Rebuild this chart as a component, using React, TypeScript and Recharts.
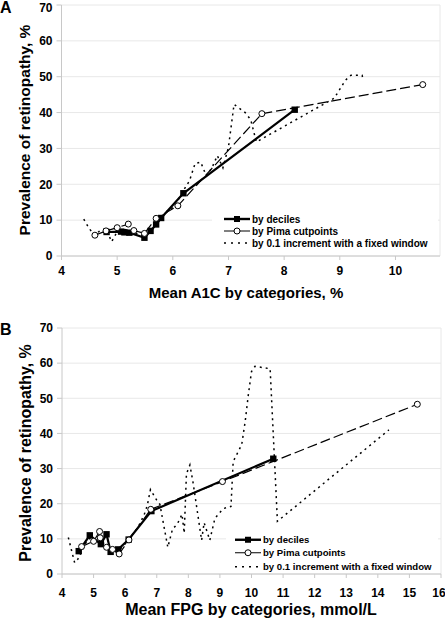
import React from 'react';
import { LineChart, Line, XAxis, YAxis, CartesianGrid, Legend, ReferenceLine } from 'recharts';

const FONT = '"Liberation Sans", Arial, Helvetica, sans-serif';

// ---- Panel A: mean A1C (%) ----
const a1cDecileX = [4.81, 5.07, 5.13, 5.22, 5.49, 5.6, 5.7, 5.79, 6.19, 8.19];
const a1cDecileY = [6.7, 6.8, 6.6, 6.5, 5.1, 7.0, 8.8, 10.6, 17.5, 40.8];
const a1cPimaX = [4.6, 4.8, 5.0, 5.2, 5.3, 5.49, 5.7, 6.09, 7.6, 10.49];
const a1cPimaY = [5.8, 7.0, 7.9, 8.9, 7.1, 6.3, 10.5, 14.0, 39.7, 47.8];
const a1cStepX = [4.4, 4.5, 4.6, 4.7, 4.8, 4.9, 5.0, 5.1, 5.2, 5.3, 5.4, 5.5, 5.6, 5.7, 5.8, 5.9, 6.0, 6.1, 6.2, 6.3, 6.4, 6.5, 6.6, 6.7, 6.8, 6.9, 7.0, 7.1, 7.3, 7.4, 7.5, 8.2, 8.9, 9.1, 9.2, 9.4, 9.42];
const a1cStepY = [10.3, 7.6, 5.8, 7.2, 7.6, 4.0, 6.8, 7.5, 7.2, 6.6, 6.0, 5.6, 7.4, 9.6, 11.0, 12.5, 13.5, 15.8, 18.5, 21.0, 25.8, 26.2, 22.4, 24.5, 28.0, 24.6, 30.4, 42.3, 40.0, 38.0, 31.8, 37.9, 44.0, 49.0, 50.4, 50.4, 49.2];
const a1cTicks = [4, 5, 6, 7, 8, 9, 10];

// ---- Panel B: mean FPG (mmol/L) ----
const fpgDecileX = [4.53, 4.88, 5.23, 5.41, 5.54, 5.78, 6.11, 6.83, 10.69];
const fpgDecileY = [6.5, 11.0, 8.5, 11.3, 6.3, 7.0, 9.8, 17.9, 32.8];
const fpgPimaX = [4.62, 5.0, 5.19, 5.21, 5.41, 5.6, 5.81, 6.12, 6.81, 9.08, 15.25];
const fpgPimaY = [7.8, 9.3, 12.1, 10.3, 7.6, 7.0, 5.7, 9.7, 18.4, 26.3, 48.3];
const fpgStepX = [4.2, 4.4, 4.5, 4.6, 4.7, 4.8, 4.9, 5.0, 5.1, 5.2, 5.3, 5.4, 5.5, 5.6, 5.7, 5.8, 5.9, 6.0, 6.1, 6.2, 6.3, 6.4, 6.5, 6.6, 6.7, 6.8, 6.9, 7.0, 7.1, 7.35, 7.5, 7.65, 7.8, 7.87, 7.94, 8.05, 8.15, 8.42, 8.5, 8.68, 8.84, 9.1, 9.35, 9.42, 9.69, 9.8, 9.9, 10.0, 10.11, 10.59, 10.67, 10.82, 14.35];
const fpgStepY = [10.4, 3.2, 4.2, 6.0, 8.0, 9.5, 10.2, 10.0, 9.4, 9.0, 8.6, 8.0, 7.2, 6.6, 6.5, 6.9, 7.6, 8.6, 9.6, 10.8, 12.0, 13.2, 15.0, 16.8, 19.5, 24.0, 22.5, 21.0, 19.8, 7.6, 12.8, 14.2, 17.0, 11.6, 28.5, 31.0, 26.0, 9.6, 14.6, 9.6, 15.8, 18.6, 19.2, 32.0, 36.8, 43.4, 51.0, 57.6, 59.1, 58.4, 43.4, 15.0, 41.0];
const fpgTicks = [4, 5, 6, 7, 8, 9, 10, 11, 12, 13, 14, 15, 16];

const yTicks = [0, 10, 20, 30, 40, 50, 60, 70];
const legendNames = ['by deciles', 'by Pima cutpoints', 'by 0.1 increment with a fixed window'];

const toPoints = (xs: number[], ys: number[]) => xs.map((x, i) => ({ x, y: ys[i] }));

const SquareDot = (props: any) => {
  const { cx, cy, index } = props;
  if (cx == null || cy == null) return <g key={index} />;
  return <rect key={index} x={cx - 3.2} y={cy - 3.2} width={6.4} height={6.4} fill="#000" />;
};

function LegendSample({ kind, h }: { kind: number; h: number }) {
  const m = h / 2;
  return (
    <svg width={26} height={h} style={{ display: 'block', flex: 'none' }}>
      {kind === 0 && (
        <g>
          <line x1={0} x2={26} y1={m} y2={m} stroke="#000" strokeWidth={2.4} />
          <rect x={10} y={m - 3} width={6} height={6} fill="#000" />
        </g>
      )}
      {kind === 1 && (
        <g>
          <line x1={0} x2={26} y1={m} y2={m} stroke="#000" strokeWidth={1} />
          <circle cx={13} cy={m} r={3} fill="#fff" stroke="#000" strokeWidth={1} />
        </g>
      )}
      {kind === 2 && <line x1={0} x2={26} y1={m} y2={m} stroke="#000" strokeWidth={1.4} strokeDasharray="2 5" />}
    </svg>
  );
}

function makeLegend(rowH: number, padLeft: number, fontSize: number) {
  return () => (
    <div style={{ background: '#fff', paddingLeft: padLeft, fontFamily: FONT, fontWeight: 'bold', fontSize, color: '#000' }}>
      {legendNames.map((name, i) => (
        <div key={name} style={{ display: 'flex', alignItems: 'center', height: rowH, whiteSpace: 'nowrap' }}>
          <LegendSample kind={i} h={rowH} />
          <span style={{ marginLeft: 2 }}>{name}</span>
        </div>
      ))}
    </div>
  );
}

const title = (x: number, y: number, text: string, size: number, rotate = false) => () => (
  <text
    x={x}
    y={y}
    textAnchor="middle"
    transform={rotate ? `rotate(-90 ${x} ${y})` : undefined}
    style={{ fontFamily: FONT, fontWeight: 'bold', fontSize: size, fill: '#000' }}
  >
    {text}
  </text>
);

const tickStyle = { fill: '#000', fontSize: 12, fontWeight: 'bold', fontFamily: FONT };
const AXIS = '#c8c8c8';
const GRID = '#e8e8e8';

interface PanelProps {
  height: number;
  margin: { top: number; right: number; left: number; bottom: number };
  yWidth: number;
  xHeight: number;
  xMax: number;
  xTicks: number[];
  tickMargin: number;
  deciles: { x: number; y: number }[];
  pima: { x: number; y: number }[];
  steps: { x: number; y: number }[];
  xTitle: () => React.ReactElement;
  yTitle: () => React.ReactElement;
  legendBox: { left: number; top: number; width: number };
  legendRow: number;
  legendPad: number;
  legendFont: number;
}

function Panel(p: PanelProps) {
  return (
    <LineChart width={445} height={p.height} margin={p.margin} style={{ fontFamily: FONT }}>
      <CartesianGrid vertical={false} stroke={GRID} />
      <ReferenceLine x={p.xMax} stroke={GRID} />
      <XAxis
        dataKey="x"
        type="number"
        domain={[4, p.xMax]}
        ticks={p.xTicks}
        allowDataOverflow
        height={p.xHeight}
        tickSize={4}
        tickMargin={p.tickMargin}
        axisLine={{ stroke: AXIS }}
        tickLine={{ stroke: AXIS }}
        tick={tickStyle}
        label={p.xTitle}
      />
      <YAxis
        dataKey="y"
        type="number"
        domain={[0, 70]}
        ticks={yTicks}
        width={p.yWidth}
        tickSize={5}
        tickMargin={4}
        axisLine={{ stroke: AXIS }}
        tickLine={{ stroke: AXIS }}
        tick={tickStyle}
        label={p.yTitle}
      />
      <Legend
        layout="vertical"
        align="center"
        verticalAlign="middle"
        content={makeLegend(p.legendRow, p.legendPad, p.legendFont)}
        wrapperStyle={{ position: 'absolute', left: p.legendBox.left, top: p.legendBox.top, width: p.legendBox.width }}
      />
      <Line
        data={p.steps}
        dataKey="y"
        name={legendNames[2]}
        stroke="#000"
        strokeWidth={1.5}
        strokeDasharray="2 4"
        dot={false}
        activeDot={false}
        isAnimationActive={false}
      />
      <Line
        data={p.deciles}
        dataKey="y"
        name={legendNames[0]}
        stroke="#000"
        strokeWidth={2.2}
        dot={SquareDot}
        activeDot={false}
        isAnimationActive={false}
      />
      <Line
        data={p.pima}
        dataKey="y"
        name={legendNames[1]}
        stroke="#000"
        strokeWidth={1.2}
        strokeDasharray="10 4"
        dot={{ r: 3, fill: '#fff', stroke: '#000', strokeWidth: 1, strokeDasharray: '' }}
        activeDot={false}
        isAnimationActive={false}
      />
    </LineChart>
  );
}

export default function App() {
  const letter = { position: 'absolute' as const, left: 0, fontFamily: FONT, fontWeight: 'bold', fontSize: 16, lineHeight: '16px' };
  return (
    <div style={{ position: 'absolute', left: 0, top: 0, width: 445, height: 619, background: '#fff' }}>
      <div style={{ position: 'absolute', left: 0, top: 0 }}>
        <Panel
          height={300}
          margin={{ top: 5, right: 5, left: 0, bottom: 0 }}
          yWidth={61.5}
          xHeight={44}
          xMax={10.8}
          xTicks={a1cTicks}
          tickMargin={6}
          deciles={toPoints(a1cDecileX, a1cDecileY)}
          pima={toPoints(a1cPimaX, a1cPimaY)}
          steps={toPoints(a1cStepX, a1cStepY)}
          xTitle={title(246, 297.5, 'Mean A1C by categories, %', 15)}
          yTitle={title(30, 130, 'Prevalence of retinopathy, %', 15.5, true)}
          legendBox={{ left: 212, top: 213, width: 226 }}
          legendRow={12}
          legendPad={12}
          legendFont={10}
        />
      </div>
      <div style={{ position: 'absolute', left: 0, top: 300 }}>
        <Panel
          height={319}
          margin={{ top: 28, right: 4, left: 0, bottom: 0 }}
          yWidth={62}
          xHeight={45}
          xMax={16}
          xTicks={fpgTicks}
          tickMargin={10}
          deciles={toPoints(fpgDecileX, fpgDecileY)}
          pima={toPoints(fpgPimaX, fpgPimaY)}
          steps={toPoints(fpgStepX, fpgStepY)}
          xTitle={title(251, 315, 'Mean FPG by categories, mmol/L', 16)}
          yTitle={title(31, 453 - 300, 'Prevalence of retinopathy, %', 16, true)}
          legendBox={{ left: 226, top: 232.5, width: 212 }}
          legendRow={13.5}
          legendPad={9}
          legendFont={9.6}
        />
      </div>
      <div style={{ ...letter, top: 0 }}>A</div>
      <div style={{ ...letter, top: 322 }}>B</div>
    </div>
  );
}
